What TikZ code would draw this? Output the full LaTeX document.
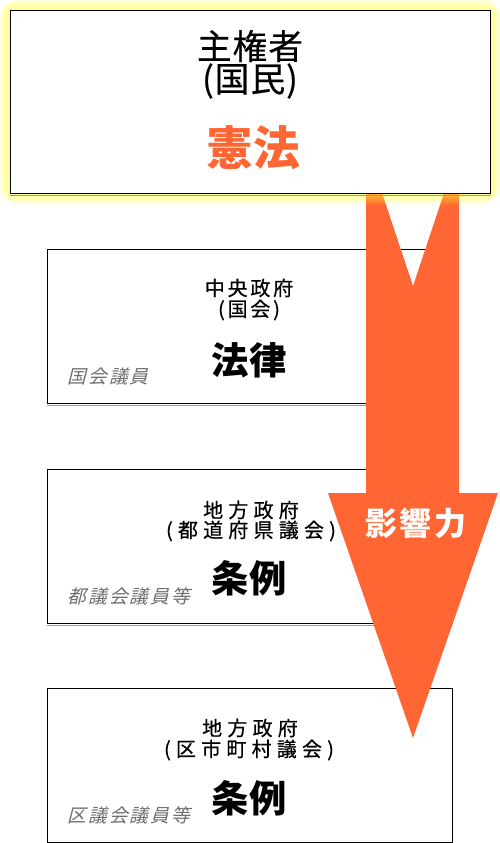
\documentclass[tikz,border=0pt]{standalone}
\usepackage{fontspec}
\newfontfamily\jpfont{Noto Sans CJK JP}
\newfontfamily\jpmid{Noto Sans CJK JP}[FakeBold=0.5]
\newfontfamily\jpslant{Noto Sans CJK JP}[FakeSlant=0.25]
\definecolor{arrowred}{HTML}{FF6633}
\definecolor{notegray}{HTML}{6E6E6E}
\definecolor{glowyellow}{HTML}{FFFF33}

\begin{document}
\begin{tikzpicture}[x=0.75pt,y=-0.75pt,
  panel/.style={draw=black, line width=0.75pt, fill=white, anchor=north west,
    inner sep=0pt, minimum width=303.75pt, minimum height=115.5pt},
  topbox/.style={panel, minimum width=360pt, minimum height=137.25pt},
  shadowline/.style={draw=black!40, line width=0.75pt},
  title/.style={inner sep=0pt, font={\fontsize{26pt}{28pt}\jpmid\addfontfeature{LetterSpace=3}}},
  constitution/.style={inner sep=0pt, text=arrowred, font={\fontsize{35pt}{38pt}\jpfont\bfseries}},
  head/.style={inner sep=0pt, font={\fontsize{15pt}{17pt}\jpmid\addfontfeature{LetterSpace=14}}},
  widehead/.style={inner sep=0pt, font={\fontsize{15pt}{17pt}\jpmid\addfontfeature{LetterSpace=26}}},
  law/.style={inner sep=0pt, font={\fontsize{28pt}{30pt}\jpfont\bfseries}},
  note/.style={inner sep=0pt, anchor=west, text=notegray,
    font={\fontsize{14pt}{16pt}\jpslant\addfontfeature{LetterSpace=12}}},
  force/.style={inner sep=0pt, text=white, font={\fontsize{24pt}{26pt}\jpfont\bfseries\addfontfeature{LetterSpace=7}}}]
  \useasboundingbox (0,0) rectangle (500,843);

  % lower boxes
  \node[panel] (central) at (47,249) {};
  \node[panel] (pref) at (47,469) {};
  \node[panel] (muni) at (47,688) {};
  \foreach \b in {central,pref}
    \draw[shadowline] ([yshift=-0.9pt]\b.south west) -- ([yshift=-0.9pt]\b.south east);

  % arrow of influence
  \fill[arrowred] (366,193) -- (382,193) -- (413,286) -- (444,193) -- (459,193)
    -- (459,493) -- (498,493) -- (413,738) -- (328,493) -- (366,493) -- cycle;
  \node[force] (influence) at (416,523) {影響力};

  % glow and top box
  \foreach \w in {2,4,...,24}
    \draw[glowyellow, opacity=0.06, line width=\w*0.75pt, rounded corners=\w*0.3pt]
      (10,10) rectangle (490,193);
  \node[topbox] (sovereign) at (10,10) {};
  \draw[shadowline] ([yshift=-0.9pt]sovereign.south west) -- ([yshift=-0.9pt]sovereign.south east);

  \node[title] (people1) at (250,46) {主権者};
  \node[title] (people2) at (250,81) {(国民)};
  \node[constitution] (kenpo) at (253,148) {憲法};

  \node[head] (central1) at (249,288) {中央政府};
  \node[head] (central2) at (249,310) {(国会)};
  \node[law] (central3) at (249,360) {法律};
  \node[note] (central4) at (67,376) {国会議員};

  \node[widehead] (pref1) at (251,510) {地方政府};
  \node[widehead] (pref2) at (251,531) {(都道府県議会)};
  \node[law] (pref3) at (249,578) {条例};
  \node[note] (pref4) at (67,596) {都議会議員等};

  \node[widehead] (muni1) at (250,728) {地方政府};
  \node[widehead] (muni2) at (249,750) {(区市町村議会)};
  \node[law] (muni3) at (249,798) {条例};
  \node[note] (muni4) at (67,815) {区議会議員等};
\end{tikzpicture}
\end{document}
